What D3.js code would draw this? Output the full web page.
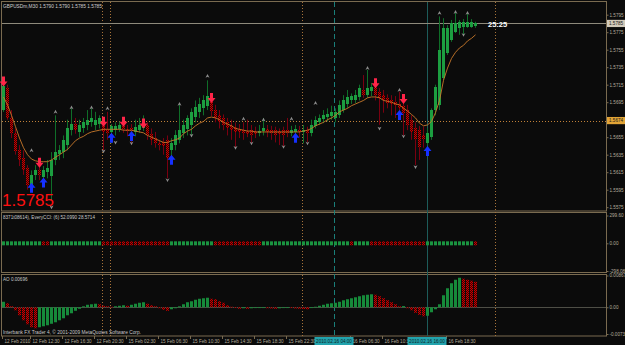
<!DOCTYPE html>
<html lang="en">
<head>
<meta charset="UTF-8">
<title>GBPUSDm,M30</title>
<script src="https://cdn.jsdelivr.net/npm/d3@7"></script>
<style>
  body { margin: 0; background: #0b0b0b; }
  svg { display: block; background: #0b0b0b; }
  text { font-family: "Liberation Sans", Arial, sans-serif; }
  .axis path { display: none; }
  .axis line { stroke: #7a6b50; }
  .axis text { fill: #b4ac9c; font-size: 4.6px; }
</style>
</head>
<body>
<script>
// ---- data ----
var open = [
  1.5686,1.5711,1.5677,1.5660,1.5640,1.5631,1.5620,1.5601,1.5611,1.5617,
  1.5609,1.5615,1.5611,1.5629,1.5635,1.5638,1.5646,1.5663,1.5670,1.5661,
  1.5665,1.5669,1.5672,1.5669,1.5670,1.5672,1.5663,1.5661,1.5663,1.5664,
  1.5668,1.5664,1.5665,1.5661,1.5663,1.5665,1.5669,1.5659,1.5654,1.5648,
  1.5649,1.5652,1.5640,1.5646,1.5652,1.5660,1.5665,1.5669,1.5677,1.5684,
  1.5688,1.5691,1.5697,1.5686,1.5680,1.5677,1.5672,1.5669,1.5667,1.5664,
  1.5663,1.5662,1.5663,1.5662,1.5660,1.5661,1.5664,1.5663,1.5663,1.5662,
  1.5663,1.5663,1.5660,1.5661,1.5663,1.5661,1.5663,1.5660,1.5668,1.5672,
  1.5675,1.5677,1.5679,1.5677,1.5681,1.5686,1.5693,1.5697,1.5697,1.5701,
  1.5709,1.5703,1.5707,1.5712,1.5707,1.5703,1.5700,1.5697,1.5695,1.5693,
  1.5691,1.5686,1.5675,1.5665,1.5663,1.5657,1.5649,1.5655,1.5686,1.5692,
  1.5723,1.5751,1.5766,1.5775,1.5780,1.5781,1.5781,1.5781,1.5781
];
var high = [
  1.5718,1.5715,1.5686,1.5665,1.5646,1.5640,1.5623,1.5617,1.5623,1.5629,
  1.5622,1.5629,1.5638,1.5680,1.5646,1.5657,1.5675,1.5688,1.5677,1.5675,
  1.5677,1.5686,1.5688,1.5684,1.5680,1.5675,1.5684,1.5670,1.5672,1.5673,
  1.5672,1.5669,1.5670,1.5675,1.5677,1.5680,1.5672,1.5665,1.5661,1.5652,
  1.5654,1.5657,1.5654,1.5663,1.5692,1.5675,1.5680,1.5688,1.5697,1.5700,
  1.5703,1.5720,1.5705,1.5692,1.5686,1.5681,1.5677,1.5675,1.5672,1.5670,
  1.5672,1.5675,1.5669,1.5667,1.5669,1.5677,1.5669,1.5668,1.5667,1.5665,
  1.5667,1.5677,1.5668,1.5669,1.5668,1.5669,1.5667,1.5675,1.5679,1.5681,
  1.5686,1.5688,1.5691,1.5688,1.5697,1.5703,1.5709,1.5705,1.5709,1.5715,
  1.5726,1.5732,1.5717,1.5717,1.5711,1.5709,1.5704,1.5703,1.5702,1.5707,
  1.5697,1.5692,1.5680,1.5672,1.5668,1.5667,1.5665,1.5688,1.5715,1.5793,
  1.5791,1.5783,1.5789,1.5797,1.5789,1.5790,1.5796,1.5790,1.5787
];
var low = [
  1.5684,1.5675,1.5654,1.5635,1.5622,1.5612,1.5595,1.5597,1.5606,1.5606,
  1.5604,1.5608,1.5583,1.5623,1.5629,1.5631,1.5640,1.5657,1.5659,1.5655,
  1.5660,1.5663,1.5667,1.5663,1.5665,1.5640,1.5652,1.5648,1.5657,1.5661,
  1.5660,1.5656,1.5648,1.5656,1.5660,1.5662,1.5652,1.5646,1.5643,1.5640,
  1.5635,1.5608,1.5629,1.5640,1.5648,1.5654,1.5657,1.5656,1.5672,1.5677,
  1.5680,1.5686,1.5679,1.5672,1.5665,1.5663,1.5657,1.5652,1.5643,1.5654,
  1.5652,1.5655,1.5648,1.5654,1.5656,1.5657,1.5655,1.5652,1.5649,1.5646,
  1.5644,1.5655,1.5656,1.5657,1.5655,1.5648,1.5649,1.5656,1.5665,1.5669,
  1.5671,1.5673,1.5675,1.5672,1.5677,1.5683,1.5688,1.5693,1.5694,1.5697,
  1.5700,1.5700,1.5702,1.5697,1.5669,1.5683,1.5688,1.5680,1.5677,1.5684,
  1.5657,1.5663,1.5652,1.5623,1.5629,1.5643,1.5646,1.5652,1.5680,1.5686,
  1.5720,1.5749,1.5764,1.5774,1.5772,1.5771,1.5780,1.5780,1.5780
];
var close = [
  1.5713,1.5677,1.5660,1.5640,1.5629,1.5617,1.5601,1.5612,1.5617,1.5611,
  1.5617,1.5620,1.5629,1.5638,1.5640,1.5652,1.5665,1.5670,1.5663,1.5669,
  1.5672,1.5675,1.5677,1.5675,1.5677,1.5660,1.5659,1.5668,1.5668,1.5669,
  1.5664,1.5662,1.5661,1.5667,1.5669,1.5670,1.5657,1.5652,1.5648,1.5646,
  1.5644,1.5632,1.5648,1.5657,1.5663,1.5669,1.5677,1.5684,1.5689,1.5693,
  1.5697,1.5702,1.5684,1.5677,1.5672,1.5669,1.5665,1.5663,1.5661,1.5660,
  1.5659,1.5659,1.5657,1.5659,1.5662,1.5665,1.5660,1.5659,1.5657,1.5659,
  1.5657,1.5660,1.5663,1.5664,1.5661,1.5663,1.5660,1.5669,1.5675,1.5677,
  1.5680,1.5681,1.5684,1.5684,1.5692,1.5697,1.5701,1.5702,1.5703,1.5711,
  1.5703,1.5711,1.5712,1.5703,1.5700,1.5697,1.5694,1.5693,1.5691,1.5688,
  1.5683,1.5669,1.5661,1.5652,1.5644,1.5652,1.5660,1.5686,1.5712,1.5755,
  1.5780,1.5780,1.5785,1.5785,1.5787,1.5787,1.5787,1.5787,1.5785
];
var maLine = [
  1.5701,1.5692,1.5680,1.5667,1.5654,1.5643,1.5635,1.5630,1.5628,1.5627,
  1.5627,1.5627,1.5629,1.5632,1.5635,1.5638,1.5641,1.5646,1.5651,1.5654,
  1.5656,1.5659,1.5661,1.5662,1.5663,1.5664,1.5664,1.5664,1.5664,1.5664,
  1.5663,1.5663,1.5663,1.5662,1.5661,1.5660,1.5657,1.5655,1.5653,1.5651,
  1.5649,1.5649,1.5651,1.5652,1.5654,1.5659,1.5662,1.5664,1.5668,1.5671,
  1.5673,1.5677,1.5678,1.5677,1.5675,1.5672,1.5670,1.5668,1.5665,1.5664,
  1.5663,1.5662,1.5662,1.5661,1.5661,1.5661,1.5661,1.5661,1.5661,1.5661,
  1.5661,1.5661,1.5661,1.5661,1.5661,1.5662,1.5663,1.5665,1.5668,1.5670,
  1.5672,1.5675,1.5677,1.5680,1.5684,1.5686,1.5688,1.5691,1.5693,1.5695,
  1.5697,1.5700,1.5701,1.5701,1.5700,1.5697,1.5696,1.5695,1.5693,1.5692,
  1.5688,1.5685,1.5681,1.5677,1.5671,1.5668,1.5669,1.5673,1.5683,1.5697,
  1.5720,1.5734,1.5745,1.5752,1.5757,1.5760,1.5765,1.5768,1.5772
];
// signal arrows: bar index and price of the tip
var sellIdx = [0, 9, 25, 30, 35, 52, 93, 100];
var sellPx  = [1.5713, 1.5620, 1.5667, 1.5667, 1.5665, 1.5694, 1.5711, 1.5693];
var buyIdx  = [7, 10, 27, 32, 42, 73, 99, 106];
var buyPx   = [1.5603, 1.5609, 1.5660, 1.5662, 1.5635, 1.5660, 1.5686, 1.5645];
// fractals
var upFracIdx = [7, 13, 17, 22, 26, 44, 51, 60, 65, 72, 78, 91, 99, 109, 113, 116];
var upFracPx  = [1.5640, 1.5684, 1.5689, 1.5689, 1.5688, 1.5693, 1.5725, 1.5676, 1.5675, 1.5676, 1.5694, 1.5734, 1.5709, 1.5797, 1.5798, 1.5797];
var dnFracIdx = [12, 25, 28, 32, 41, 47, 58, 62, 70, 76, 94, 100, 103, 115];
var dnFracPx  = [1.5575, 1.5639, 1.5649, 1.5648, 1.5606, 1.5657, 1.5643, 1.5648, 1.5644, 1.5648, 1.5665, 1.5656, 1.5621, 1.5772];
// EveryCCI state per bar (1 up, -1 down)
var cciState = [
  1,1,1,1,1,1,1,1,1,1, -1,-1, 1,1,1,1,1,1,1,1,1,1,1,1,1,
  -1,-1,-1,-1,-1,-1,-1,-1,-1,-1,-1,-1,-1,-1,-1,-1,-1,
  1,1,1,1,1,1,1,1,1,1,1,
  -1,-1,-1,-1,-1,-1,-1,-1,-1,-1,-1,-1,
  1,1,1,1,1,1,1,1,1,1,1,1,1,1,1,1,1,1,1,1,1,1,
  -1, 1,1,1,1,
  -1,-1,-1,-1,-1,-1,-1,-1,-1,-1,-1,-1,-1,-1,
  1,1,1,1,1,1,1,1,1,1,1,1, -1
];
// Awesome Oscillator
var ao = [
  0.00150,0.00109,0.00027,-0.00082,-0.00219,-0.00355,-0.00464,-0.00546,-0.00574,-0.00546,
  -0.00519,-0.00492,-0.00451,-0.00410,-0.00355,-0.00301,-0.00219,-0.00164,-0.00096,-0.00041,
  0.00027,0.00068,0.00082,0.00096,0.00082,0.00041,0.00027,0.00014,0.00027,0.00041,
  0.00055,0.00041,0.00068,0.00096,0.00123,0.00137,0.00096,0.00055,0.00027,-0.00027,
  -0.00068,-0.00096,-0.00055,-0.00027,0.00027,0.00082,0.00137,0.00164,0.00205,0.00232,
  0.00246,0.00260,0.00232,0.00219,0.00164,0.00123,0.00055,0.00014,-0.00014,-0.00041,
  -0.00027,-0.00041,-0.00027,-0.00022,-0.00016,-0.00014,-0.00027,-0.00033,-0.00041,-0.00027,
  -0.00022,-0.00016,-0.00022,-0.00033,-0.00041,-0.00049,-0.00055,-0.00014,0.00014,0.00041,
  0.00068,0.00096,0.00109,0.00123,0.00150,0.00191,0.00219,0.00246,0.00273,0.00301,
  0.00328,0.00342,0.00355,0.00342,0.00301,0.00246,0.00191,0.00137,0.00082,0.00027,
  0.00033,-0.00027,-0.00082,-0.00150,-0.00205,-0.00246,-0.00232,-0.00137,-0.00055,0.00082,
  0.00328,0.00519,0.00656,0.00751,0.00806,0.00779,0.00751,0.00724,0.00696
];
var priceTicks = [1.5795, 1.5775, 1.5755, 1.5735, 1.5715, 1.5695, 1.5655, 1.5635, 1.5615, 1.5595, 1.5575];
var bidPrice = 1.5785;
var levelPrice = 1.5674;
var cciTicks = [299.595, 0, -298.08];
var aoTicks = [0.00867, 0, -0.0073];
var timeTicks = [0, 7, 15, 23, 31, 39, 47, 55, 63, 71, 87, 95, 111];
var timeLabels = ["12 Feb 2010", "12 Feb 12:30", "12 Feb 16:30", "12 Feb 20:30", "15 Feb 02:30",
  "15 Feb 06:30", "15 Feb 10:30", "15 Feb 14:30", "15 Feb 18:30", "15 Feb 22:30",
  "16 Feb 06:30", "16 Feb 10:30", "16 Feb 18:30"];
var dottedMarks = [24.75, 26.75, 74.75, 123];
var dashedMarks = [82.75];
var solidMarks = [106];
var crossLabels = ["2010.02.16 04:00", "2010.02.16 16:00"];
var crossIdx = [82.75, 106];

// ---- drawing ----
var W = 625, H = 345;
var svg = d3.select("body").append("svg").attr("width", W).attr("height", H);

var defs = svg.append("defs");
var pat = defs.append("pattern").attr("id", "redchk")
  .attr("width", 2).attr("height", 2).attr("patternUnits", "userSpaceOnUse");
pat.append("rect").attr("width", 2).attr("height", 2).attr("fill", "#3c0000");
pat.append("rect").attr("width", 1).attr("height", 1).attr("fill", "#c80000");
pat.append("rect").attr("x", 1).attr("y", 1).attr("width", 1).attr("height", 1).attr("fill", "#c80000");

var x = d3.scaleLinear().domain([0, 118]).range([3, 475]);
var yP = d3.scaleLinear().domain([1.5575, 1.5795]).range([207.2, 14.7]);
var yCci = d3.scaleLinear().domain([-298.08, 299.595]).range([271, 215.5]);
var yAo = d3.scaleLinear().domain([-0.0073, 0.00867]).range([334, 275.5]);

var frameCol = "#7a6b50";
// panel frames
[[1.5, 211], [212.5, 272.5], [274.5, 336]].forEach(function (p) {
  svg.append("rect").attr("x", 1.5).attr("y", p[0]).attr("width", 605).attr("height", p[1] - p[0])
    .attr("fill", "none").attr("stroke", frameCol).attr("stroke-width", 1);
});

// vertical time markers
var vg = svg.append("g");
vg.selectAll(".vdot").data(dottedMarks).enter().append("line")
  .attr("x1", function (d) { return Math.round(x(d)) + 0.5; })
  .attr("x2", function (d) { return Math.round(x(d)) + 0.5; })
  .attr("y1", 2).attr("y2", 336)
  .attr("stroke", "#a8743a").attr("stroke-dasharray", "1,2");
vg.selectAll(".vdash").data(dashedMarks).enter().append("line")
  .attr("x1", function (d) { return Math.round(x(d)) + 0.5; })
  .attr("x2", function (d) { return Math.round(x(d)) + 0.5; })
  .attr("y1", 2).attr("y2", 336)
  .attr("stroke", "#1a7f7a").attr("stroke-dasharray", "5,3");
vg.selectAll(".vsolid").data(solidMarks).enter().append("line")
  .attr("x1", function (d) { return Math.round(x(d)) + 0.5; })
  .attr("x2", function (d) { return Math.round(x(d)) + 0.5; })
  .attr("y1", 2).attr("y2", 336)
  .attr("stroke", "#1d5c5a");

// horizontal lines
svg.append("line").attr("x1", 2).attr("x2", 606).attr("y1", Math.round(yP(bidPrice)) + 0.5)
  .attr("y2", Math.round(yP(bidPrice)) + 0.5).attr("stroke", "#8e8a7c");
svg.append("line").attr("x1", 2).attr("x2", 606).attr("y1", Math.round(yP(levelPrice)) + 0.5)
  .attr("y2", Math.round(yP(levelPrice)) + 0.5).attr("stroke", "#c08038").attr("stroke-dasharray", "1,2");

// candles
var bars = d3.range(open.length).map(function (i) {
  return { i: i, o: open[i], h: high[i], l: low[i], c: close[i], up: close[i] >= open[i] };
});
var cg = svg.append("g");
cg.selectAll(".wick").data(bars).enter().append("line")
  .attr("x1", function (d) { return x(d.i) + 0.5; })
  .attr("x2", function (d) { return x(d.i) + 0.5; })
  .attr("y1", function (d) { return yP(d.h); })
  .attr("y2", function (d) { return yP(d.l); })
  .attr("stroke", function (d) { return d.up ? "#0f6e28" : "#7a0010"; });
cg.selectAll(".body").data(bars).enter().append("rect")
  .attr("x", function (d) { return x(d.i) - 1; })
  .attr("width", 3)
  .attr("y", function (d) { return Math.round(yP(Math.max(d.o, d.c))); })
  .attr("height", function (d) { return Math.max(1, Math.round(Math.abs(yP(d.o) - yP(d.c)))); })
  .attr("fill", function (d) { return d.up ? "#1c9e40" : "url(#redchk)"; });

// moving average
svg.append("path").datum(maLine)
  .attr("d", d3.line().x(function (d, i) { return x(i) + 0.5; }).y(function (d) { return yP(d); }))
  .attr("fill", "none").attr("stroke", "#c8782a").attr("stroke-width", 0.9);

// fractal markers
function fracPath(cx, cy, up) {
  var s = up ? 1 : -1;
  return "M" + cx + "," + (cy - 2 * s) + "L" + (cx + 2) + "," + (cy + 1.8 * s) +
    "L" + cx + "," + (cy + 0.7 * s) + "L" + (cx - 2) + "," + (cy + 1.8 * s) + "Z";
}
svg.selectAll(".ufr").data(upFracIdx).enter().append("path")
  .attr("d", function (d, k) { return fracPath(x(d) + 0.5, yP(upFracPx[k]), true); })
  .attr("fill", "#8e8e8e");
svg.selectAll(".dfr").data(dnFracIdx).enter().append("path")
  .attr("d", function (d, k) { return fracPath(x(d) + 0.5, yP(dnFracPx[k]), false); })
  .attr("fill", "#8e8e8e");

// signal arrows
function arrowPath(cx, tip, down) {
  var s = down ? -1 : 1;
  return "M" + cx + "," + tip + "L" + (cx + 4) + "," + (tip + 5 * s) + "L" + (cx + 1.5) + "," + (tip + 5 * s) +
    "L" + (cx + 1.5) + "," + (tip + 10 * s) + "L" + (cx - 1.5) + "," + (tip + 10 * s) +
    "L" + (cx - 1.5) + "," + (tip + 5 * s) + "L" + (cx - 4) + "," + (tip + 5 * s) + "Z";
}
svg.selectAll(".sell").data(sellIdx).enter().append("path")
  .attr("d", function (d, k) { return arrowPath(x(d) + 0.5, yP(sellPx[k]), true); })
  .attr("fill", "#ff2448");
svg.selectAll(".buy").data(buyIdx).enter().append("path")
  .attr("d", function (d, k) { return arrowPath(x(d) + 0.5, yP(buyPx[k]), false); })
  .attr("fill", "#1530ff");

// CCI panel
svg.selectAll(".cci").data(cciState).enter().append("rect")
  .attr("x", function (d, i) { return x(i) - 1; })
  .attr("width", 3)
  .attr("y", yCci(0) - 2).attr("height", 4)
  .attr("fill", function (d) { return d > 0 ? "#1a9440" : "url(#redchk)"; });

// AO panel
svg.append("line").attr("x1", 2).attr("x2", 606).attr("y1", Math.round(yAo(0)) + 0.5)
  .attr("y2", Math.round(yAo(0)) + 0.5).attr("stroke", "#4e4e46");
svg.selectAll(".ao").data(ao).enter().append("rect")
  .attr("x", function (d, i) { return x(i) - 1; })
  .attr("width", 3)
  .attr("y", function (d) { return Math.min(yAo(d), yAo(0)); })
  .attr("height", function (d) { return Math.max(0.8, Math.abs(yAo(d) - yAo(0))); })
  .attr("fill", function (d, i) { return (i === 0 || d >= ao[i - 1]) ? "#168a3a" : "url(#redchk)"; });

// axes
svg.append("g").attr("class", "axis").attr("transform", "translate(606.5,0)")
  .call(d3.axisRight(yP).tickValues(priceTicks).tickFormat(d3.format(".4f")).tickSize(2).tickPadding(1));
svg.append("g").attr("class", "axis").attr("transform", "translate(606.5,0)")
  .call(d3.axisRight(yCci).tickValues(cciTicks).tickSize(2).tickPadding(1)
    .tickFormat(function (d) { return d === 0 ? "0.00" : d.toFixed(2); }));
svg.append("g").attr("class", "axis").attr("transform", "translate(606.5,0)")
  .call(d3.axisRight(yAo).tickValues(aoTicks).tickSize(2).tickPadding(1)
    .tickFormat(function (d) { return d === 0 ? "0.00" : d.toFixed(d > 0 ? 5 : 4); }));
var tx = svg.append("g").attr("class", "axis").attr("transform", "translate(0,336)")
  .call(d3.axisBottom(x).tickValues(timeTicks).tickSize(3)
    .tickFormat(function (d, k) { return timeLabels[k]; }));
tx.selectAll(".tick line").attr("transform", "translate(-1,0)");
tx.selectAll("text").attr("text-anchor", "start").attr("x", 1).attr("y", 4);

// highlighted price labels
function priceTag(p, bg) {
  var yy = yP(p);
  svg.append("rect").attr("x", 607).attr("y", yy - 3.6).attr("width", 18).attr("height", 7.2).attr("fill", bg);
  svg.append("text").attr("x", 609).attr("y", yy).attr("dy", "0.35em")
    .attr("font-size", 4.6).attr("fill", "#1a1a1a").text(p.toFixed(4));
}
priceTag(bidPrice, "#d2cabb");
priceTag(levelPrice, "#e2a436");

// crosshair time labels
crossIdx.forEach(function (d, k) {
  var cx = x(d);
  svg.append("rect").attr("x", cx - 19.5).attr("y", 337).attr("width", 39).attr("height", 8).attr("fill", "#22a3ad");
  svg.append("text").attr("x", cx).attr("y", 343).attr("text-anchor", "middle")
    .attr("font-size", 4.6).attr("fill", "#0c2628").text(crossLabels[k]);
});

// texts
svg.append("text").attr("x", 3).attr("y", 7.5).attr("font-size", 4.8).attr("fill", "#cfcfcf")
  .text("GBPUSDm,M30  1.5790 1.5790 1.5785 1.5785");
svg.append("text").attr("x", 3).attr("y", 219).attr("font-size", 4.6).attr("fill", "#c8c8c8")
  .text("8371t08614), EveryCCI: (6) 52.0990 28.5714");
svg.append("text").attr("x", 3).attr("y", 281).attr("font-size", 4.6).attr("fill", "#c8c8c8")
  .text("AO 0.00696");
svg.append("text").attr("x", 3).attr("y", 334).attr("font-size", 4.8).attr("fill", "#c8c8c8")
  .text("Interbank FX Trader 4, \u00a9 2001-2009 MetaQuotes Software Corp.");
svg.append("text").attr("x", 488).attr("y", 26.5).attr("font-size", 7.5).attr("font-weight", "bold")
  .attr("fill", "#ffffff").text("25:25");
svg.append("text").attr("x", 2).attr("y", 206).attr("font-size", 17).attr("fill", "#ff1010")
  .text(close[close.length - 1].toFixed(4));
</script>
</body>
</html>
